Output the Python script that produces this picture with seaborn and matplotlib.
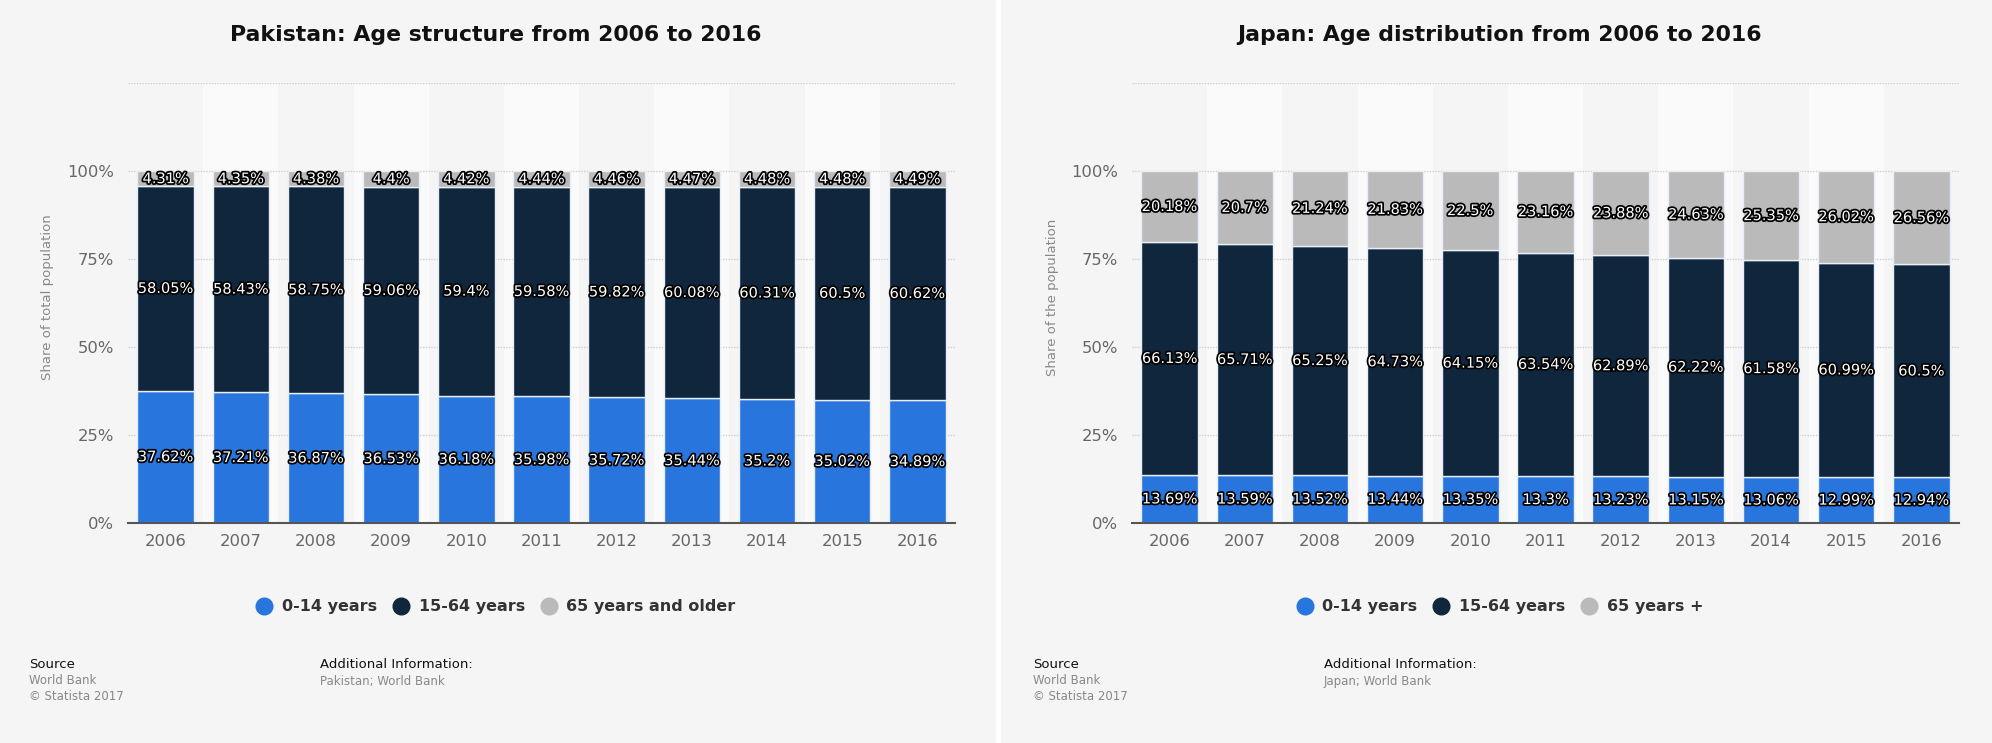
import matplotlib
matplotlib.use("Agg")
import matplotlib.pyplot as plt
import matplotlib.patheffects as pe
from matplotlib.lines import Line2D
import numpy as np
import seaborn as sns

years = [str(y) for y in range(2006, 2017)]

# Pakistan
pk_0_14 = [37.62, 37.21, 36.87, 36.53, 36.18, 35.98, 35.72, 35.44, 35.2, 35.02, 34.89]
pk_15_64 = [58.05, 58.43, 58.75, 59.06, 59.4, 59.58, 59.82, 60.08, 60.31, 60.5, 60.62]
pk_65 = [4.31, 4.35, 4.38, 4.4, 4.42, 4.44, 4.46, 4.47, 4.48, 4.48, 4.49]

# Japan
jp_0_14 = [13.69, 13.59, 13.52, 13.44, 13.35, 13.3, 13.23, 13.15, 13.06, 12.99, 12.94]
jp_15_64 = [66.13, 65.71, 65.25, 64.73, 64.15, 63.54, 62.89, 62.22, 61.58, 60.99, 60.5]
jp_65 = [20.18, 20.7, 21.24, 21.83, 22.5, 23.16, 23.88, 24.63, 25.35, 26.02, 26.56]

colors = ["#2876dd", "#0f263c", "#bababa"]
BG = "#f5f5f5"
W, H = 1992, 743

sns.set_style("white")
plt.rcParams["font.family"] = ["DejaVu Sans"]

fig = plt.figure(figsize=(W / 100, H / 100), dpi=100)
fig.patch.set_facecolor(BG)

# white divider between panels
fig.patches.append(plt.Rectangle((996 / W, 0), 4 / W, 1, transform=fig.transFigure,
                                 color="white", zorder=0))


def fmt(v):
    return f"{v:g}%"


def draw_panel(x0, title, ylabel, series, legend_labels, info):
    left, right, top, bottom = x0 + 128, x0 + 955, 83, 523
    ax = fig.add_axes([left / W, (H - bottom) / H, (right - left) / W, (bottom - top) / H])
    ax.set_facecolor(BG)
    for i in range(len(years)):
        if i % 2 == 1:
            ax.axvspan(i - 0.5, i + 0.5, color="#fafafa", zorder=0, lw=0)
    for g in [25, 50, 75, 100, 125]:
        ax.axhline(g, color="#cfcfcf", lw=1, ls=(0, (1, 1)), zorder=0.5)

    base = np.zeros(len(years))
    for vals, c in zip(series, colors):
        sns.barplot(x=years, y=vals, bottom=base, color=c, width=0.75, ax=ax,
                    edgecolor="#e8eef8", linewidth=1, saturation=1, zorder=2)
        for i, v in enumerate(vals):
            ax.text(i, base[i] + v / 2, fmt(v), ha="center", va="center",
                    color="white", fontsize=10.5, zorder=5,
                    path_effects=[pe.withStroke(linewidth=2.5, foreground="black")])
        base = base + np.array(vals)

    ax.set_xlim(-0.5, len(years) - 0.5)
    ax.set_ylim(0, 125)
    ax.set_yticks([0, 25, 50, 75, 100])
    ax.set_yticklabels(["0%", "25%", "50%", "75%", "100%"])
    ax.tick_params(axis="both", colors="#666666", labelsize=11.8, length=0, pad=10)
    ax.tick_params(axis="x", pad=8)
    for s in ["top", "right", "left"]:
        ax.spines[s].set_visible(False)
    ax.spines["bottom"].set_color("#555555")
    ax.spines["bottom"].set_linewidth(1.5)
    ax.spines["bottom"].set_zorder(6)
    ax.set_xlabel("")
    ax.set_ylabel("")
    fig.text((x0 + 48) / W, (H - 297) / H, ylabel, rotation=90, ha="center", va="center",
             color="#888888", fontsize=9.5)

    fig.text((x0 + 496) / W, (H - 35) / H, title, ha="center", va="center",
             fontsize=15.8, fontweight="bold", color="#111111")

    handles = [Line2D([], [], marker="o", ls="", markersize=12, color=c) for c in colors]
    fig.legend(handles, legend_labels, loc="center", ncol=3, frameon=False,
               bbox_to_anchor=((x0 + 496) / W, (H - 607) / H),
               prop={"weight": "bold", "size": 11.5}, labelcolor="#333333",
               handletextpad=0.6, columnspacing=1.0, handlelength=1.0)

    fig.text((x0 + 29) / W, (H - 664) / H, "Source", fontsize=9.5, color="#111111", va="center")
    fig.text((x0 + 29) / W, (H - 681) / H, "World Bank", fontsize=8.5, color="#888888", va="center")
    fig.text((x0 + 29) / W, (H - 697) / H, "© Statista 2017", fontsize=8.5, color="#888888", va="center")
    fig.text((x0 + 320) / W, (H - 664) / H, "Additional Information:", fontsize=9.5,
             color="#111111", va="center")
    fig.text((x0 + 320) / W, (H - 681) / H, info, fontsize=8.5, color="#888888", va="center")


draw_panel(0, "Pakistan: Age structure from 2006 to 2016", "Share of total population",
           [pk_0_14, pk_15_64, pk_65], ["0-14 years", "15-64 years", "65 years and older"],
           "Pakistan; World Bank")
draw_panel(1004, "Japan: Age distribution from 2006 to 2016", "Share of the population",
           [jp_0_14, jp_15_64, jp_65], ["0-14 years", "15-64 years", "65 years +"],
           "Japan; World Bank")

fig.savefig("out.png", dpi=100, facecolor=BG)
